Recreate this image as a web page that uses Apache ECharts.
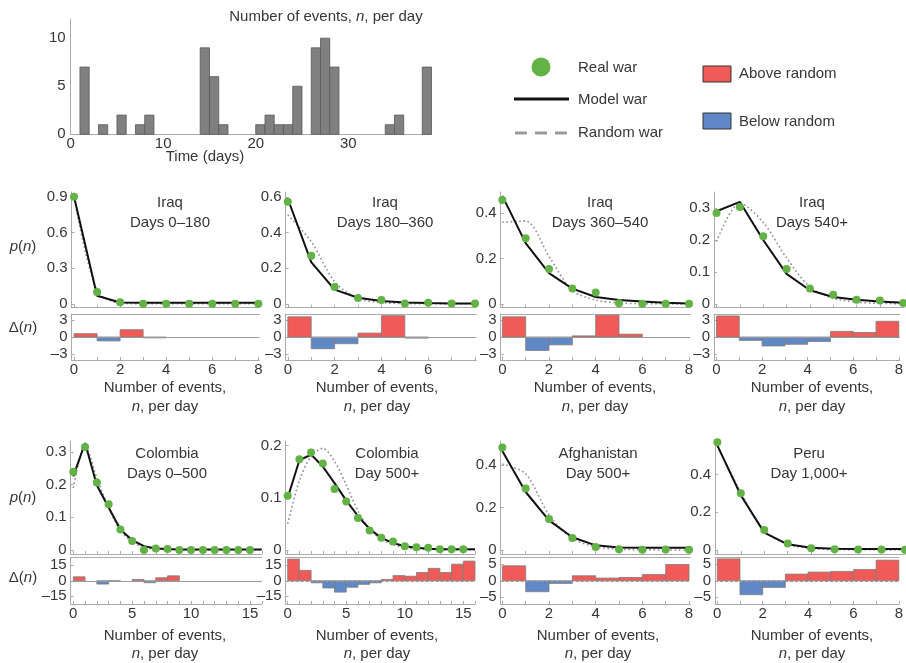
<!DOCTYPE html>
<html>
<head>
<meta charset="utf-8">
<script src="https://cdn.jsdelivr.net/npm/echarts@6/dist/echarts.min.js"></script>
<style>
  html, body { margin: 0; padding: 0; background: #fff; }
  #chart { width: 906px; height: 663px; }
</style>
</head>
<body>
<div id="chart"></div>
<script>
// events per day in the sample war, days 0..38
const dailyCounts = [0, 7, 0, 1, 0, 2, 0, 1, 2, 0, 0, 0, 0, 0, 9, 6, 1, 0, 0, 0, 1, 2, 1, 1, 5, 0, 9, 10, 7, 0, 0, 0, 0, 0, 1, 2, 0, 0, 7];
const dayLabels = [0, 10, 20, 30];
const countLabels = [0, 5, 10];

// n, events per day
const nSmall = [0, 1, 2, 3, 4, 5, 6, 7, 8];
const nLarge = [0, 1, 2, 3, 4, 5, 6, 7, 8, 9, 10, 11, 12, 13, 14, 15, 16];
const nLabelsSmall = [0, 2, 4, 6, 8];
const nLabelsIraq2 = [0, 2, 4, 6];
const nLabelsLarge = [0, 5, 10, 15];

// Iraq, days 0–180
const iraq1Real = [0.90, 0.10, 0.015, 0.003, 0.003, 0.003, 0.003, 0.003, 0.003];
const iraq1Model = [0.90, 0.07, 0.013, 0.011, 0.011, 0.011, 0.011, 0.011, 0.011];
const iraq1Random = [0.90, 0.11, 0.008, 0.003, 0.002, 0.002, 0.002, 0.002, 0.002];
const iraq1Delta = [0.6, -0.7, 1.3, -0.15, 0, 0, 0, 0];
const iraq1YLabels = [0, 0.3, 0.6, 0.9];

// Iraq, days 180–360
const iraq2Real = [0.574, 0.271, 0.095, 0.034, 0.022, 0.003, 0.007, 0.003, 0.003];
const iraq2Model = [0.59, 0.235, 0.08, 0.035, 0.017, 0.008, 0.005, 0.003, 0.003];
const iraq2Random = [0.50, 0.35, 0.125, 0.03, 0.008, 0.002, 0.001, 0.001, 0.001];
const iraq2Delta = [3.6, -2.1, -1.2, 0.7, 3.8, -0.2, 0, 0];
const iraq2YLabels = [0, 0.2, 0.4, 0.6];

// Iraq, days 360–540
const iraq3Real = [0.458, 0.29, 0.154, 0.069, 0.051, 0.004, 0.001, 0.001, 0.001];
const iraq3Model = [0.476, 0.268, 0.136, 0.068, 0.031, 0.018, 0.011, 0.006, 0.003];
const iraq3Random = [0.36, 0.365, 0.21, 0.06, 0.018, 0.005, 0.002, 0.001, 0];
const iraq3Delta = [3.6, -2.4, -1.4, 0.2, 3.9, 0.5, 0, 0];
const iraq3YLabels = [0, 0.2, 0.4];

// Iraq, days 540+
const iraq4Real = [0.284, 0.303, 0.212, 0.109, 0.048, 0.029, 0.013, 0.011, 0.003];
const iraq4Model = [0.29, 0.319, 0.20, 0.094, 0.043, 0.022, 0.013, 0.008, 0.004];
const iraq4Random = [0.195, 0.315, 0.255, 0.144, 0.053, 0.018, 0.006, 0.002, 0.001];
const iraq4Delta = [3.75, -0.6, -1.6, -1.3, -0.8, 1.0, 0.8, 2.8];
const iraq4YLabels = [0, 0.1, 0.2, 0.3];

// Colombia, days 0–500
const colombia1Real = [0.239, 0.315, 0.206, 0.14, 0.063, 0.028, 0.0, 0.005, 0.003, 0, 0, 0, 0, 0, 0, 0];
const colombia1Model = [0.225, 0.327, 0.198, 0.13, 0.063, 0.03, 0.012, 0.005, 0.003, 0.002, 0.002, 0.002, 0.002, 0.002, 0.002, 0.002, 0.002];
const colombia1Random = [0.19, 0.32, 0.22, 0.13, 0.06, 0.025, 0.008, 0.003, 0.001, 0, 0, 0, 0, 0, 0, 0, 0];
const colombia1Delta = [3.8, 0, -3.2, -0.5, 0, 1.3, -1.9, 2.9, 4.8, 0, 0, 0, 0, 0, 0, 0];
const colombia1YLabels = [0, 0.1, 0.2, 0.3];

// Colombia, day 500+
const colombia2Real = [0.104, 0.174, 0.187, 0.166, 0.117, 0.093, 0.061, 0.037, 0.023, 0.016, 0.007, 0.005, 0.004, 0.001, 0.001, 0.001];
const colombia2Model = [0.10, 0.172, 0.183, 0.16, 0.128, 0.095, 0.065, 0.04, 0.023, 0.013, 0.007, 0.004, 0.002, 0.001, 0.001, 0.001, 0.001];
const colombia2Random = [0.05, 0.133, 0.18, 0.195, 0.17, 0.125, 0.075, 0.04, 0.02, 0.01, 0.005, 0.002, 0.001, 0, 0, 0, 0];
const colombia2Delta = [21, 10, -2, -7, -11, -6.3, -3.5, -2, 1.3, 5, 4.4, 8, 12, 8, 16, 19];
const colombia2YLabels = [0, 0.1, 0.2];

// Afghanistan, day 500+
const afghanReal = [0.484, 0.29, 0.146, 0.057, 0.014, 0.003, 0.001, 0.002, 0.001];
const afghanModel = [0.468, 0.274, 0.14, 0.06, 0.022, 0.012, 0.01, 0.01, 0.01];
const afghanRandom = [0.406, 0.36, 0.166, 0.055, 0.015, 0.004, 0.001, 0, 0];
const afghanDelta = [4.5, -3.3, -0.8, 1.5, 0.8, 1.0, 1.9, 4.9];
const afghanYLabels = [0, 0.2, 0.4];

// Peru, day 1,000+
const peruReal = [0.571, 0.30, 0.106, 0.034, 0.01, 0.004, 0.003, 0.003, 0.002];
const peruModel = [0.554, 0.29, 0.092, 0.03, 0.012, 0.007, 0.006, 0.005, 0.005];
const peruRandom = [0.55, 0.305, 0.1, 0.032, 0.008, 0.003, 0.002, 0.001, 0.001];
const peruDelta = [6.6, -4.2, -2.0, 2.0, 2.6, 2.8, 3.4, 6.2];
const peruYLabels = [0, 0.2, 0.4];

const deltaLabelsIraq = [-3, 0, 3];
const deltaLabelsColombia = [-15, 0, 15];
const deltaLabelsOther = [-5, 0, 5];

const FONT = '"Liberation Sans", Arial, sans-serif';
const TEXT = '#363636';
const AXIS = '#ababab';
const GREEN = '#62b246';
const RED = '#f15b57';
const BLUE = '#6088c6';

const panels = [
  { title: 'Iraq', sub: 'Days 0–180', n: nSmall, real: iraq1Real, model: iraq1Model, random: iraq1Random, delta: iraq1Delta,
    xLabels: nLabelsSmall, yLabels: iraq1YLabels, dLabels: deltaLabelsIraq,
    row: 0, left: 71.5, width: 188, xMin: -0.11, xMax: 8.05, yMin: -0.029, yMax: 0.94, dMax: 4.1, titleX: 170, nameX: 165 },
  { title: 'Iraq', sub: 'Days 180–360', n: nSmall, real: iraq2Real, model: iraq2Model, random: iraq2Random, delta: iraq2Delta,
    xLabels: nLabelsIraq2, yLabels: iraq2YLabels, dLabels: deltaLabelsIraq,
    row: 0, left: 285.7, width: 190.5, xMin: -0.09, xMax: 8.05, yMin: -0.02, yMax: 0.628, dMax: 4.1, titleX: 385, nameX: 377 },
  { title: 'Iraq', sub: 'Days 360–540', n: nSmall, real: iraq3Real, model: iraq3Model, random: iraq3Random, delta: iraq3Delta,
    xLabels: nLabelsSmall, yLabels: iraq3YLabels, dLabels: deltaLabelsIraq,
    row: 0, left: 500.7, width: 189.5, xMin: -0.07, xMax: 8.05, yMin: -0.015, yMax: 0.493, dMax: 4.1, titleX: 600, nameX: 595 },
  { title: 'Iraq', sub: 'Days 540+', n: nSmall, real: iraq4Real, model: iraq4Model, random: iraq4Random, delta: iraq4Delta,
    xLabels: nLabelsSmall, yLabels: iraq4YLabels, dLabels: deltaLabelsIraq,
    row: 0, left: 714, width: 190.4, xMin: -0.11, xMax: 8.05, yMin: -0.011, yMax: 0.35, dMax: 4.1, titleX: 812, nameX: 812 },
  { title: 'Colombia', sub: 'Days 0–500', n: nLarge, real: colombia1Real, model: colombia1Model, random: colombia1Random, delta: colombia1Delta,
    xLabels: nLabelsLarge, yLabels: colombia1YLabels, dLabels: deltaLabelsColombia,
    row: 1, left: 70.7, width: 191.1, xMin: -0.22, xMax: 16, yMin: -0.012, yMax: 0.333, dMax: 22.5, titleX: 167, nameX: 165 },
  { title: 'Colombia', sub: 'Day 500+', n: nLarge, real: colombia2Real, model: colombia2Model, random: colombia2Random, delta: colombia2Delta,
    xLabels: nLabelsLarge, yLabels: colombia2YLabels, dLabels: deltaLabelsColombia,
    row: 1, left: 285.7, width: 189.3, xMin: -0.17, xMax: 16, yMin: -0.008, yMax: 0.209, dMax: 22.5, titleX: 387, nameX: 377, dashedZero: true },
  { title: 'Afghanistan', sub: 'Day 500+', n: nSmall, real: afghanReal, model: afghanModel, random: afghanRandom, delta: afghanDelta,
    xLabels: nLabelsSmall, yLabels: afghanYLabels, dLabels: deltaLabelsOther,
    row: 1, left: 500.7, width: 189.5, xMin: -0.07, xMax: 8.05, yMin: -0.019, yMax: 0.515, dMax: 7, titleX: 598, nameX: 598, dashedZero: true },
  { title: 'Peru', sub: 'Day 1,000+', n: nSmall, real: peruReal, model: peruModel, random: peruRandom, delta: peruDelta,
    xLabels: nLabelsSmall, yLabels: peruYLabels, dLabels: deltaLabelsOther,
    row: 1, left: 715, width: 190, xMin: -0.1, xMax: 8, yMin: -0.021, yMax: 0.577, dMax: 7, titleX: 809, nameX: 812, dashedZero: true }
];

const rows = [
  { mainTop: 192, mainH: 115.5, dTop: 314, dH: 46, titleY: [203, 223], nameY: [388, 407], pY: 247, dY: 328 },
  { mainTop: 441, mainH: 113, dTop: 557.5, dH: 46.5, titleY: [454, 474], nameY: [636, 654], pY: 498, dY: 578 }
];

const minusFmt = v => (v < 0 ? '–' + Math.abs(v) : String(v));
const labelStyle = { color: TEXT, fontSize: 15, fontFamily: FONT };

// step bar spanning [n, n + 1]
function stepBar(fillFn, stroke) {
  return function (params, api) {
    const n = api.value(0);
    const v = api.value(1);
    if (!v) return;
    const a = api.coord([n, 0]);
    const b = api.coord([n + 1, v]);
    return {
      type: 'rect',
      shape: { x: a[0], y: Math.min(a[1], b[1]), width: b[0] - a[0], height: Math.abs(b[1] - a[1]) },
      style: { fill: fillFn(v), stroke: stroke, lineWidth: 0.8 }
    };
  };
}

const grid = [{ left: 70.7, top: 19, width: 360.8, height: 115.3 }];
const xAxis = [{
  gridIndex: 0, type: 'value', min: 0, max: 39,
  axisLine: { lineStyle: { color: AXIS } },
  axisTick: { show: false },
  axisLabel: Object.assign({ customValues: dayLabels, margin: 2 }, labelStyle),
  splitLine: { show: false }
}];
const yAxis = [{
  gridIndex: 0, type: 'value', min: 0, max: 12,
  axisLine: { show: true, lineStyle: { color: AXIS } },
  axisTick: { show: false },
  axisLabel: Object.assign({ customValues: countLabels, margin: 5 }, labelStyle),
  splitLine: { show: false }
}];
const series = [{
  type: 'custom', name: 'Events per day', xAxisIndex: 0, yAxisIndex: 0,
  renderItem: stepBar(() => '#808080', '#585858'),
  data: dailyCounts.map((c, d) => [d, c])
}];

const texts = [];
function addText(x, y, text, extra) {
  texts.push({
    type: 'text', x, y, silent: true,
    style: Object.assign({
      text, fill: TEXT, fontSize: 15, fontFamily: FONT, align: 'center', verticalAlign: 'middle',
      rich: { i: { fontStyle: 'italic', fontSize: 15, fontFamily: FONT, fill: TEXT } }
    }, extra || {})
  });
}

panels.forEach(p => {
  const r = rows[p.row];
  const gMain = grid.length;
  grid.push({ left: p.left, top: r.mainTop, width: p.width, height: r.mainH });
  const gDelta = grid.length;
  grid.push({ left: p.left, top: r.dTop, width: p.width, height: r.dH });

  const xMain = xAxis.length;
  xAxis.push({
    gridIndex: gMain, type: 'value', min: p.xMin, max: p.xMax,
    axisLine: { onZero: false, lineStyle: { color: AXIS } },
    axisTick: { inside: true, length: 3, customValues: p.n, lineStyle: { color: AXIS } },
    axisLabel: { show: false },
    splitLine: { show: false }
  });
  const xDelta = xAxis.length;
  xAxis.push({
    gridIndex: gDelta, type: 'value', min: p.xMin, max: p.xMax,
    axisLine: { onZero: false, lineStyle: { color: AXIS } },
    axisTick: { inside: true, length: 3, customValues: p.n, lineStyle: { color: AXIS } },
    axisLabel: Object.assign({ customValues: p.xLabels, margin: 2 }, labelStyle),
    splitLine: { show: false }
  });
  xAxis.push({
    gridIndex: gDelta, type: 'value', position: 'top', min: p.xMin, max: p.xMax,
    axisLine: { onZero: false, lineStyle: { color: AXIS } },
    axisTick: { show: false }, axisLabel: { show: false }, splitLine: { show: false }
  });

  const yMain = yAxis.length;
  yAxis.push({
    gridIndex: gMain, type: 'value', min: p.yMin, max: p.yMax,
    axisLine: { show: true, onZero: false, lineStyle: { color: AXIS } },
    axisTick: { show: true, inside: true, length: 3, customValues: p.yLabels, lineStyle: { color: AXIS } },
    axisLabel: Object.assign({ customValues: p.yLabels, margin: 4 }, labelStyle),
    splitLine: { show: false }
  });
  const yDelta = yAxis.length;
  yAxis.push({
    gridIndex: gDelta, type: 'value', min: -p.dMax, max: p.dMax,
    axisLine: { show: true, onZero: false, lineStyle: { color: AXIS } },
    axisTick: { show: true, inside: true, length: 3, customValues: p.dLabels, lineStyle: { color: AXIS } },
    axisLabel: Object.assign({ customValues: p.dLabels, margin: 4, formatter: minusFmt }, labelStyle),
    splitLine: { show: false }
  });

  series.push({
    type: 'line', name: 'Random war', xAxisIndex: xMain, yAxisIndex: yMain,
    data: p.random.map((v, i) => [p.n[i], v]),
    smooth: 0.3, symbol: 'none',
    lineStyle: { color: '#8d8d8d', width: 1.6, type: [1.6, 2.6] }
  });
  series.push({
    type: 'line', name: 'Model war', xAxisIndex: xMain, yAxisIndex: yMain,
    data: p.model.map((v, i) => [p.n[i], v]),
    symbol: 'none',
    lineStyle: { color: '#111', width: 2 }
  });
  series.push({
    type: 'scatter', name: 'Real war', xAxisIndex: xMain, yAxisIndex: yMain,
    data: p.real.map((v, i) => [p.n[i], v]),
    symbolSize: 8, itemStyle: { color: GREEN, opacity: 1 }, z: 5
  });
  series.push({
    type: 'custom', name: 'Δ(n)', xAxisIndex: xDelta, yAxisIndex: yDelta,
    renderItem: stepBar(v => (v >= 0 ? RED : BLUE), '#7c7c7c'),
    data: p.delta.map((v, i) => [p.n[i], v]),
    markLine: {
      silent: true, symbol: 'none', label: { show: false },
      lineStyle: { color: '#999', width: 1, type: p.dashedZero ? [3, 2] : 'solid' },
      data: [{ yAxis: 0 }]
    }
  });

  addText(p.titleX, r.titleY[0], p.title);
  addText(p.titleX, r.titleY[1], p.sub);
  addText(p.nameX, r.nameY[0], 'Number of events,');
  addText(p.nameX, r.nameY[1], '{i|n}, per day');
});

rows.forEach(r => {
  addText(23, r.pY, '{i|p}({i|n})');
  addText(23, r.dY, 'Δ({i|n})');
});

addText(326, 17, 'Number of events, {i|n}, per day');
addText(205, 157, 'Time (days)');

// legend
addText(578, 68, 'Real war', { align: 'left' });
addText(578, 100, 'Model war', { align: 'left' });
addText(578, 133, 'Random war', { align: 'left' });
addText(739, 74, 'Above random', { align: 'left' });
addText(739, 122, 'Below random', { align: 'left' });

const legendShapes = [
  { type: 'circle', shape: { cx: 541, cy: 67, r: 9.5 }, style: { fill: GREEN } },
  { type: 'line', shape: { x1: 514, y1: 99, x2: 569, y2: 99 }, style: { stroke: '#111', lineWidth: 3 } },
  { type: 'line', shape: { x1: 515, y1: 133, x2: 568, y2: 133 }, style: { stroke: '#9a9a9a', lineWidth: 3, lineDash: [12, 8] } },
  { type: 'rect', shape: { x: 703, y: 66, width: 28, height: 16 }, style: { fill: RED, stroke: '#333', lineWidth: 1 } },
  { type: 'rect', shape: { x: 703, y: 113, width: 28, height: 16 }, style: { fill: BLUE, stroke: '#333', lineWidth: 1 } }
];

const chart = echarts.init(document.getElementById('chart'));
chart.setOption({
  animation: false,
  backgroundColor: '#fff',
  grid,
  xAxis,
  yAxis,
  series,
  graphic: legendShapes.concat(texts)
});
</script>
</body>
</html>
